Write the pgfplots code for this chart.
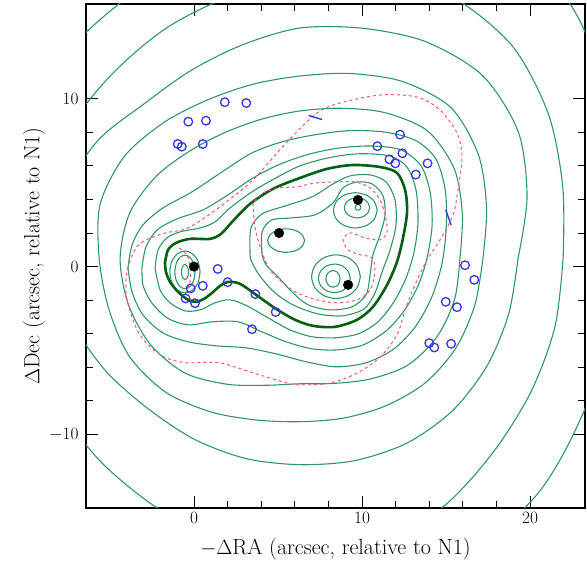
\documentclass[border=0pt]{standalone}
\usepackage{pgfplots}
\pgfplotsset{compat=1.18}
\definecolor{cgreen}{RGB}{50,150,100}
\definecolor{tgreen}{RGB}{0,95,20}
\definecolor{cred}{RGB}{235,90,110}
\definecolor{cblue}{RGB}{55,55,225}
\pgfplotsset{
 cont/.style={cgreen, line width=1.1pt, smooth, no markers},
 thk/.style={tgreen, line width=2.6pt, smooth, no markers},
 crit/.style={cred, line width=1pt, smooth, no markers, dash pattern=on 3pt off 3pt},
}
\begin{document}
\begin{tikzpicture}
\begin{axis}[
 width=499pt,height=504pt,scale only axis,
 xmin=-6.43,xmax=23.27,ymin=-14.38,ymax=15.64,
 xtick={0,10,20}, ytick={-10,0,10}, minor tick num=4,
 major tick length=12pt, minor tick length=7pt,
 tick style={black,line width=0.9pt},
 axis line style={line width=1.4pt},
 ticklabel style={font=\fontsize{19}{19}\selectfont},
 yticklabel style={xshift=-4pt},
 xticklabel style={yshift=-1pt},
 xlabel={$-\Delta$RA (arcsec, relative to N1)},
 ylabel={$\Delta$Dec (arcsec, relative to N1)},
 label style={font=\fontsize{22}{26}\selectfont},
 xlabel style={at={(axis description cs:0.5,-0.0813)},anchor=center},
 ylabel style={at={(axis description cs:-0.1042,0.5)},anchor=center},
]
% ---- outer contours (K8 .. K4)
\addplot[cont] coordinates {(25.06,0.52)(25.01,8.27)(21.97,16.17)(14.40,20.04)(6.31,20.16)(-0.94,18.01)(-6.78,13.61)(-11.18,7.77)(-13.33,0.52)(-12.94,-7.46)(-9.26,-15.05)(-2.13,-19.83)(6.31,-20.61)(14.18,-18.46)(20.41,-13.58)(23.91,-6.78)(25.06,0.52)};
\addplot[cont] coordinates {(21.97,0.52)(21.95,4.71)(21.10,9.06)(18.94,13.14)(15.30,16.09)(10.81,17.31)(6.31,17.18)(2.14,16.10)(-1.61,14.23)(-4.76,11.59)(-7.35,8.41)(-9.21,4.68)(-10.06,0.52)(-9.79,-3.80)(-8.28,-7.90)(-5.69,-11.48)(-2.26,-14.33)(1.78,-16.39)(6.31,-17.34)(10.87,-16.50)(14.85,-14.28)(17.84,-11.01)(20.07,-7.43)(21.49,-3.55)(21.97,0.52)};
\addplot[cont] coordinates {(19.29,0.52)(19.82,4.14)(19.30,8.02)(17.17,11.38)(13.75,13.41)(9.98,14.20)(6.31,14.21)(2.91,13.22)(-0.15,11.70)(-2.91,9.74)(-5.75,7.48)(-7.72,4.28)(-8.21,0.52)(-7.32,-3.13)(-5.29,-6.18)(-2.70,-8.49)(0.06,-10.31)(3.11,-11.44)(6.31,-11.80)(9.55,-11.56)(12.68,-10.51)(15.40,-8.57)(17.44,-5.91)(18.73,-2.81)(19.29,0.52)};
\addplot[cont] coordinates {(17.20,0.52)(17.41,3.49)(16.93,6.65)(15.28,9.48)(12.38,11.03)(9.25,11.50)(6.31,11.35)(3.54,10.87)(0.86,9.95)(-1.77,8.60)(-4.15,6.56)(-5.59,3.71)(-5.65,0.52)(-5.07,-2.53)(-3.85,-5.35)(-1.69,-7.48)(1.01,-8.66)(3.72,-9.14)(6.31,-9.24)(8.87,-9.03)(11.40,-8.30)(13.76,-6.93)(15.59,-4.84)(16.72,-2.27)(17.20,0.52)};
\addplot[cont] coordinates {(15.83,0.52)(15.97,3.11)(15.49,5.82)(13.89,8.09)(11.31,9.18)(8.70,9.43)(6.31,9.27)(4.09,8.80)(1.97,8.04)(-0.13,6.96)(-2.20,5.43)(-3.81,3.23)(-4.40,0.52)(-3.92,-2.22)(-2.61,-4.63)(-0.55,-6.34)(1.97,-7.01)(4.28,-7.07)(6.31,-6.98)(8.31,-6.96)(10.48,-6.70)(12.71,-5.88)(14.46,-4.18)(15.51,-1.95)(15.83,0.52)};
% ---- K3 .. K1
\addplot[cont] coordinates {(-3.93,-0.08)(-3.69,1.29)(-3.04,2.48)(-1.85,3.49)(-0.12,4.45)(1.67,5.64)(3.45,6.77)(5.30,7.45)(7.20,7.85)(9.29,8.10)(11.43,8.0)(13.21,7.50)(14.40,6.40)(14.95,4.57)(15.02,2.48)(14.78,0.28)(14.18,-1.74)(13.21,-3.53)(11.90,-4.90)(10.24,-5.73)(8.45,-5.97)(6.67,-5.67)(4.88,-5.20)(3.10,-4.84)(1.31,-4.72)(-0.36,-4.48)(-1.85,-3.95)(-3.04,-2.88)(-3.69,-1.51)(-3.93,-0.08)};
\addplot[cont] coordinates {(-3.10,-0.08)(-2.86,1.17)(-2.20,2.18)(-1.01,2.84)(0.54,3.38)(2.02,4.27)(3.51,5.28)(5.12,6.10)(6.90,6.71)(8.69,7.07)(10.60,7.18)(12.32,6.95)(13.51,6.0)(14.05,4.45)(14.17,2.48)(13.87,0.52)(13.33,-1.15)(12.50,-2.64)(11.43,-3.83)(10.06,-4.67)(8.57,-4.96)(7.02,-4.90)(5.48,-4.48)(4.05,-3.89)(2.62,-3.29)(1.07,-3.29)(-0.36,-3.47)(-1.61,-3.05)(-2.56,-2.10)(-3.04,-1.09)(-3.10,-0.08)};
\addplot[cont] coordinates {(-2.32,-0.08)(-2.14,0.99)(-1.61,1.71)(-0.83,2.07)(0.36,2.30)(1.25,2.66)(2.14,3.49)(3.51,4.49)(4.82,5.25)(6.31,6.0)(8.10,6.50)(9.88,6.72)(11.67,6.58)(12.68,5.92)(13.21,4.57)(13.33,2.66)(13.10,0.88)(12.62,-0.67)(11.90,-2.10)(10.95,-3.29)(9.76,-4.01)(8.39,-4.24)(7.02,-4.18)(5.71,-3.77)(4.40,-3.05)(3.15,-2.34)(2.14,-1.98)(1.25,-2.16)(0.36,-2.58)(-0.54,-2.64)(-1.43,-2.16)(-2.02,-1.39)(-2.32,-0.08)};
% ---- inner contours
\addplot[cont] coordinates {(3.33,0.99)(3.39,2.30)(4.05,3.14)(5.42,3.61)(7.02,4.15)(8.27,4.92)(9.29,5.40)(10.48,5.46)(11.43,5.04)(11.96,3.97)(12.02,2.48)(11.67,0.99)(11.19,-0.32)(10.77,-1.57)(10.12,-2.52)(8.87,-2.93)(7.38,-2.82)(5.89,-2.28)(4.76,-1.51)(3.87,-0.49)(3.39,0.40)(3.33,0.99)};
\addplot[cont] coordinates {(4.05,0.70)(4.05,2.07)(4.64,2.78)(5.83,2.90)(7.20,3.08)(8.27,3.79)(8.87,4.69)(9.70,5.04)(10.60,4.92)(11.25,4.21)(11.37,3.08)(11.07,1.89)(10.65,0.70)(10.48,-0.49)(10.24,-1.68)(9.40,-2.40)(8.10,-2.58)(6.79,-2.28)(5.83,-1.51)(5.0,-0.61)(4.29,0.10)(4.05,0.70)};
\addplot[cont] coordinates {(6.58,1.55)(6.43,1.90)(6.03,2.16)(5.48,2.25)(4.93,2.16)(4.53,1.90)(4.38,1.55)(4.53,1.20)(4.93,0.94)(5.48,0.85)(6.03,0.94)(6.43,1.20)(6.58,1.55)};
\addplot[cont] coordinates {(9.93,3.53)(9.91,3.62)(9.85,3.68)(9.76,3.70)(9.68,3.68)(9.61,3.62)(9.59,3.53)(9.61,3.45)(9.68,3.38)(9.76,3.36)(9.85,3.38)(9.91,3.45)(9.93,3.53)};
\addplot[cont] coordinates {(10.45,3.5)(10.35,3.8)(10.08,4.02)(9.7,4.1)(9.33,4.02)(9.05,3.8)(8.95,3.5)(9.05,3.2)(9.33,2.98)(9.7,2.9)(10.08,2.98)(10.35,3.2)(10.45,3.5)};
\addplot[cont] coordinates {(10.9,3.35)(10.73,3.88)(10.25,4.26)(9.6,4.4)(8.95,4.26)(8.47,3.88)(8.3,3.35)(8.47,2.83)(8.95,2.44)(9.6,2.3)(10.25,2.44)(10.73,2.83)(10.9,3.35)};
\addplot[cont] coordinates {(8.69,-0.73)(8.63,-0.48)(8.48,-0.30)(8.27,-0.23)(8.06,-0.30)(7.91,-0.48)(7.85,-0.73)(7.91,-0.98)(8.06,-1.16)(8.27,-1.23)(8.48,-1.16)(8.63,-0.98)(8.69,-0.73)};
\addplot[cont] coordinates {(9.30,-0.7)(9.17,-0.28)(8.83,0.04)(8.35,0.15)(7.88,0.04)(7.53,-0.28)(7.40,-0.7)(7.53,-1.13)(7.88,-1.44)(8.35,-1.55)(8.83,-1.44)(9.17,-1.13)(9.30,-0.7)};
\addplot[cont] coordinates {(9.90,-0.6)(9.71,0.05)(9.18,0.53)(8.45,0.70)(7.73,0.53)(7.19,0.05)(7.0,-0.6)(7.19,-1.25)(7.73,-1.73)(8.45,-1.90)(9.18,-1.73)(9.71,-1.25)(9.90,-0.6)};
\addplot[cont] coordinates {(-0.33,-0.32)(-0.36,-0.10)(-0.44,0.07)(-0.54,0.13)(-0.65,0.07)(-0.72,-0.10)(-0.75,-0.32)(-0.72,-0.55)(-0.65,-0.71)(-0.54,-0.77)(-0.44,-0.71)(-0.36,-0.55)(-0.33,-0.32)};
\addplot[cont] coordinates {(0.06,-0.32)(-0.02,0.18)(-0.24,0.55)(-0.54,0.68)(-0.84,0.55)(-1.06,0.18)(-1.14,-0.32)(-1.06,-0.82)(-0.84,-1.19)(-0.54,-1.32)(-0.24,-1.19)(-0.02,-0.82)(0.06,-0.32)};
\addplot[cont] coordinates {(0.36,-0.32)(0.24,0.31)(-0.09,0.76)(-0.54,0.93)(-0.99,0.76)(-1.32,0.31)(-1.44,-0.32)(-1.32,-0.95)(-0.99,-1.40)(-0.54,-1.57)(-0.09,-1.40)(0.24,-0.95)(0.36,-0.32)};
% ---- thick contour
\addplot[thk] coordinates {(-1.73,0.22)(-1.55,0.99)(-1.07,1.41)(-0.24,1.65)(0.95,1.65)(1.61,1.95)(2.32,2.72)(3.33,3.73)(4.70,4.63)(6.31,5.28)(7.92,5.82)(9.46,6.05)(11.07,5.93)(12.08,5.58)(12.56,4.57)(12.68,3.26)(12.44,1.71)(12.08,0.28)(11.49,-1.09)(10.65,-2.40)(9.70,-3.17)(8.39,-3.59)(7.08,-3.53)(6.01,-3.17)(4.88,-2.52)(3.69,-1.68)(2.74,-1.03)(2.02,-0.91)(1.55,-1.15)(1.07,-1.57)(0.60,-1.92)(0.12,-2.10)(-0.36,-1.98)(-0.95,-1.51)(-1.43,-0.91)(-1.67,-0.32)(-1.73,0.22)};
% ---- critical curves
\addplot[crit] coordinates {(-3.87,0.22)(-3.45,1.11)(-2.86,1.59)(-1.67,2.01)(-0.48,2.24)(0.71,2.96)(2.08,3.97)(3.51,5.16)(5.48,7.36)(7.32,9.15)(8.69,9.74)(11.07,10.22)(13.27,10.10)(14.64,9.33)(15.65,7.96)(15.95,6.53)(15.71,4.57)(15.42,3.08)(14.64,1.59)(13.87,0.40)(13.15,-1.09)(12.56,-2.58)(12.08,-4.07)(11.07,-5.40)(9.70,-6.35)(8.10,-6.94)(6.31,-7.05)(5.48,-6.92)(3.51,-6.33)(1.49,-5.73)(-0.48,-5.73)(-1.67,-5.43)(-2.62,-4.78)(-3.39,-3.77)(-3.99,-1.98)(-4.05,-0.79)(-3.87,0.22)};
\addplot[crit] coordinates {(3.51,3.79)(3.63,2.36)(3.93,1.17)(4.52,-0.20)(5.30,-0.97)(6.13,-1.57)(7.32,-1.98)(8.51,-2.16)(9.70,-1.98)(10.48,-1.39)(10.77,-0.32)(10.60,0.52)(9.88,0.70)(9.17,0.99)(8.87,1.59)(9.29,2.01)(10.18,1.71)(11.07,1.59)(11.49,2.07)(11.37,3.08)(11.07,3.97)(10.48,4.69)(9.58,5.04)(8.39,5.04)(7.20,4.98)(6.13,4.75)(5.12,4.69)(4.11,4.39)(3.51,3.79)};
\addplot[crit] coordinates {(-0.89,1.11)(-0.42,0.70)(-0.24,-0.08)(-0.24,-0.91)(-0.54,-1.69)};
% ---- blue segments
\addplot[cblue, line width=1.4pt, no markers] coordinates {(6.82,9.0)(7.62,8.76)};
\addplot[cblue, line width=1.4pt, no markers] coordinates {(14.98,3.38)(15.30,2.48)};
% ---- blue circles
\addplot[only marks, mark=o, mark size=4.3pt, cblue, line width=1.3pt] coordinates {
(-0.34,8.63)(0.71,8.69)(1.83,9.79)(3.11,9.74)(-0.97,7.30)(-0.73,7.14)(0.52,7.30)
(1.41,-0.14)(-0.2,-1.3)(0.52,-1.15)(-0.5,-1.9)(0.06,-2.18)(2.0,-0.93)(3.65,-1.64)(4.86,-2.71)(3.45,-3.73)
(12.26,7.86)(10.91,7.17)(12.4,6.75)(11.63,6.39)(11.98,6.15)(13.9,6.15)(13.2,5.48)
(16.13,0.08)(16.68,-0.79)(14.98,-2.1)(15.65,-2.42)(14.0,-4.56)(14.3,-4.82)(15.3,-4.6)};
% ---- galaxies
\addplot[only marks, mark=*, mark size=4.8pt, black] coordinates {(0,0)(5.06,2.0)(9.76,3.97)(9.17,-1.09)};
\end{axis}
\pgfresetboundingbox
\path ([shift={(-86pt,-57pt)}]current axis.south west) rectangle ([shift={(2pt,4pt)}]current axis.north east);
\end{tikzpicture}
\end{document}
